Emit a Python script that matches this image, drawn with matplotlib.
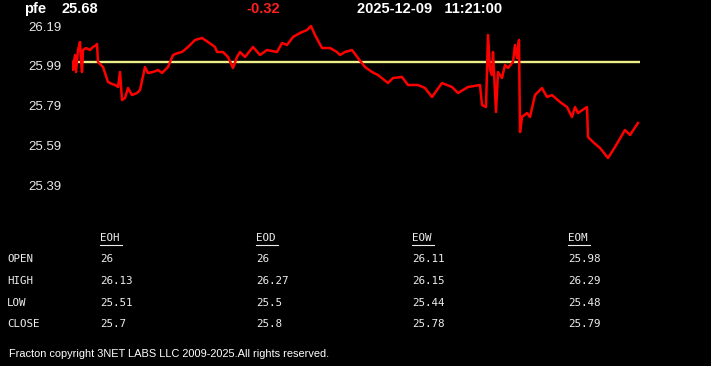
import matplotlib
matplotlib.use("Agg")
import matplotlib.pyplot as plt
from matplotlib.lines import Line2D
from matplotlib.transforms import ScaledTranslation

W, H = 711, 366

symbol = "pfe"
last_price = "25.68"
change = "-0.32"
stamp = "2025-12-09   11:21:00"
open_level = 26.00

y_ticks = [26.19, 25.99, 25.79, 25.59, 25.39]

minutes = [0, 1, 3, 4, 6, 8, 9, 10, 11, 14, 18, 21, 23, 25, 26, 31, 36, 40, 43, 46,
           48, 50, 53, 56, 60, 65, 68, 73, 76, 81, 86, 90, 96, 101, 106, 110, 116, 123,
           130, 136, 143, 145, 151, 156, 161, 165, 168, 173, 181, 188, 195, 205, 210,
           215, 221, 228, 235, 239, 243, 250, 258, 265, 268, 273, 280, 286, 293, 300,
           306, 316, 321, 330, 336, 346, 353, 360, 370, 380, 386, 396, 408, 410, 414,
           416, 418, 420, 421, 424, 426, 430, 433, 436, 441, 443, 445, 447, 448, 450,
           455, 458, 463, 470, 475, 480, 488, 495, 500, 503, 506, 515, 516, 521, 528,
           536, 543, 553, 558, 566]
prices = [26.00, 25.96, 26.035, 25.95, 26.06, 26.10, 26.01, 25.95, 26.06, 26.07,
          26.06, 26.075, 26.08, 26.09, 26.00, 25.975, 25.90, 25.89, 25.885, 25.875,
          25.95, 25.81, 25.82, 25.87, 25.835, 25.845, 25.86, 25.975, 25.945, 25.95,
          25.96, 25.945, 25.975, 26.035, 26.045, 26.05, 26.075, 26.11, 26.12, 26.10,
          26.075, 26.05, 26.05, 26.025, 25.97, 26.025, 26.05, 26.025, 26.075, 26.035,
          26.06, 26.05, 26.095, 26.085, 26.125, 26.145, 26.16, 26.18, 26.135, 26.07,
          26.07, 26.05, 26.035, 26.05, 26.06, 26.02, 25.975, 25.95, 25.935, 25.895,
          25.92, 25.925, 25.885, 25.885, 25.87, 25.825, 25.895, 25.875, 25.845, 25.875,
          25.885, 25.785, 25.775, 26.135, 25.96, 25.935, 26.05, 25.75, 25.95, 25.92,
          25.985, 25.97, 26.00, 26.085, 26.02, 26.11, 25.65, 25.725, 25.745, 25.725,
          25.835, 25.87, 25.825, 25.835, 25.80, 25.775, 25.725, 25.775, 25.745, 25.775,
          25.625, 25.60, 25.57, 25.52, 25.575, 25.66, 25.635, 25.695]

col_heads = ["EOH", "EOD", "EOW", "EOM"]
row_labels = ["OPEN", "HIGH", "LOW", "CLOSE"]
table_vals = [
    ["26", "26", "26.11", "25.98"],
    ["26.13", "26.27", "26.15", "26.29"],
    ["25.51", "25.5", "25.44", "25.48"],
    ["25.7", "25.8", "25.78", "25.79"],
]
footer = "Fracton copyright 3NET LABS LLC 2009-2025.All rights reserved."


def fx(x):
    return x / W


def fy(y):
    return 1 - y / H


fig = plt.figure(figsize=(W / 100, H / 100), dpi=100, facecolor="black")

# plot axes: pixel x 72..640, pixel y 20..200 -> price 26.21 .. 25.31
top_px, bot_px = 20, 200
ax = fig.add_axes([fx(72), fy(bot_px), (640 - 72) / W, (bot_px - top_px) / H])
ax.set_facecolor("black")
for s in ax.spines.values():
    s.set_visible(False)
ax.set_xlim(0, 568)
ax.set_ylim(open_level - (bot_px - 62) * 0.005, open_level + (62 - top_px) * 0.005)
ax.axhline(open_level, color="#eeee88", lw=1.7, zorder=1)
ax.plot(minutes, prices, color="#ff0000", lw=1.8, zorder=2)
ax.set_xticks([])
ax.set_yticks(y_ticks)
ax.set_yticklabels([f"{v:.2f}" for v in y_ticks])
ax.tick_params(axis="y", length=0, pad=7.5, labelcolor="#e8e8e8", labelsize=9.5)
for i, lab in enumerate(ax.get_yticklabels()):
    lab.set_fontfamily("Liberation Sans")
    dy = -2.5 if i == 0 else -1.2
    lab.set_transform(lab.get_transform() + ScaledTranslation(0, dy / 100, fig.dpi_scale_trans))

# header
hdr = dict(color="white", fontsize=10.5, fontweight="bold", family="Liberation Sans", va="center")
fig.text(fx(24), fy(9), symbol, ha="left", **hdr)
fig.text(fx(62), fy(9), last_price, ha="left", **hdr)
fig.text(fx(263), fy(9), change, ha="center", **{**hdr, "color": "#ff2020"})
fig.text(fx(357), fy(9), stamp, ha="left", **hdr)

# table
mono = dict(color="#eeeeee", fontsize=7.8, family="DejaVu Sans Mono", va="center", ha="left")
col_x = [100, 256, 412, 568]
row_y = [259, 281, 303, 324]
for cx, head in zip(col_x, col_heads):
    fig.text(fx(cx), fy(238), head, **mono)
    fig.add_artist(Line2D([fx(cx), fx(cx + 22)], [fy(244.5), fy(244.5)],
                          color="#eeeeee", lw=0.8, transform=fig.transFigure))
for ry, lab, vals in zip(row_y, row_labels, table_vals):
    fig.text(fx(7), fy(ry), lab, **mono)
    for cx, v in zip(col_x, vals):
        fig.text(fx(cx), fy(ry), v, **mono)

fig.text(fx(9), fy(354), footer, color="white", fontsize=7.95, family="Liberation Sans",
         va="center", ha="left")

fig.savefig("out.png", dpi=100, facecolor="black")
